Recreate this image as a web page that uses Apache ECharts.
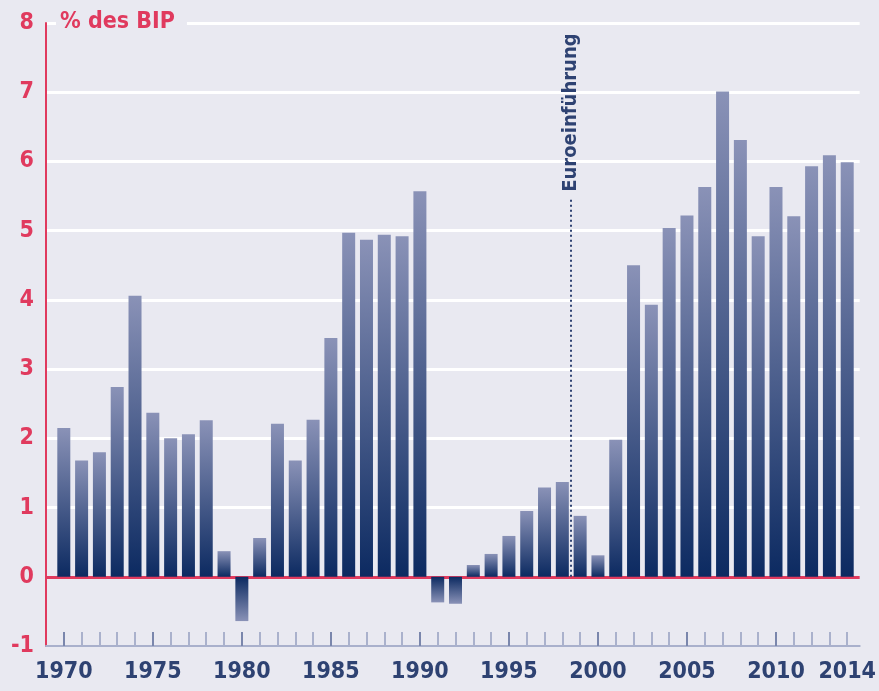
<!DOCTYPE html>
<html><head><meta charset="utf-8">
<script src="https://cdn.jsdelivr.net/npm/echarts@6/dist/echarts.min.js"></script>
<style>html,body{margin:0;padding:0;background:#e9e9f1;}#c{width:879px;height:691px;}</style>
</head><body><div id="c"></div>
<script>
const years = [1970,1971,1972,1973,1974,1975,1976,1977,1978,1979,1980,1981,1982,1983,1984,1985,1986,1987,1988,1989,1990,1991,1992,1993,1994,1995,1996,1997,1998,1999,2000,2001,2002,2003,2004,2005,2006,2007,2008,2009,2010,2011,2012,2013,2014];
const values = [2.15,1.68,1.80,2.74,4.06,2.37,2.00,2.06,2.26,0.37,-0.64,0.56,2.21,1.68,2.27,3.45,4.97,4.87,4.94,4.92,5.57,-0.37,-0.39,0.17,0.33,0.59,0.95,1.29,1.37,0.88,0.31,1.98,4.50,3.93,5.04,5.22,5.63,7.01,6.31,4.92,5.63,5.21,5.93,6.09,5.99];
const xLabels = [1970,1975,1980,1985,1990,1995,2000,2005,2010,2014];
const majorTicks = [1970,1975,1980,1985,1990,1995,2000,2005,2010];
const euroYear = 1998.5;
const euroLineTop = 5.45;
const euroLabel = 'Euroeinführung';
const unitLabel = '% des BIP';

const BG = '#e9e9f1', RED = '#e03a5e', BLUE = '#2e4272';
const light = '#8a92b7', dark = '#0c2a61';
function grad(neg){
  return new echarts.graphic.LinearGradient(0,0,0,1, neg
    ? [{offset:0,color:dark},{offset:1,color:light}]
    : [{offset:0,color:light},{offset:1,color:dark}]);
}
const barData = years.map((y,i)=>({value:[y, values[i]], itemStyle:{color:grad(values[i]<0)}}));

const chart = echarts.init(document.getElementById('c'));
const font = '"Liberation Sans Narrow","DejaVu Sans Condensed","Open Sans",sans-serif';
chart.setOption({
  backgroundColor: BG,
  animation: false,
  title: {
    text: unitLabel, left: 56, top: 9,
    backgroundColor: BG, padding: [2,12,2,4],
    textStyle: {color: RED, fontSize: 23, fontWeight: 'bold', fontFamily: font}
  },
  grid: {left: 46, right: 16, top: 23, bottom: 45},
  xAxis: [{
    type: 'value', min: 1969, max: 2014.7,
    axisLine: {show: true, onZero: false, lineStyle: {color: '#a9b0cc', width: 2}},
    axisTick: {show: true, inside: true, length: 14, customValues: years, lineStyle: {color: '#aab1cc', width: 2}},
    axisLabel: {customValues: xLabels, color: BLUE, fontSize: 23, fontWeight: 'bold', fontFamily: font, margin: 15, formatter: v => String(v)},
    splitLine: {show: false}
  },{
    type: 'value', min: 1969, max: 2014.7, position: 'bottom',
    axisLine: {show: false, onZero: false},
    axisTick: {show: true, inside: true, length: 14, customValues: majorTicks, lineStyle: {color: '#7a86ac', width: 2}},
    axisLabel: {show: false}, splitLine: {show: false}
  }],
  yAxis: {
    type: 'value', min: -1, max: 8, interval: 1,
    axisLine: {show: true, lineStyle: {color: RED, width: 2}},
    axisTick: {show: false},
    axisLabel: {color: RED, fontSize: 23, fontWeight: 'bold', fontFamily: font, margin: 12},
    splitLine: {show: true, lineStyle: {color: ['rgba(0,0,0,0)', RED, '#ffffff','#ffffff','#ffffff','#ffffff','#ffffff','#ffffff','#ffffff','#ffffff'], width: 3}}
  },
  series: [{
    type: 'bar', barWidth: 13, data: barData, z: 2,
    markLine: {
      silent: true, symbol: ['none','none'],
      lineStyle: {color: BLUE, type: [2,3], width: 2},
      label: {show: false},
      data: [[{coord: [euroYear, 0]}, {coord: [euroYear, euroLineTop]}]]
    },
    markPoint: {
      silent: true, symbol: 'circle', symbolSize: 0,
      data: [{coord: [euroYear, euroLineTop + 0.17], value: 0}],
      label: {show: true, formatter: euroLabel, position: 'inside', rotate: 90, align: 'left', verticalAlign: 'middle', offset: [-4, 0],
        color: BLUE, fontSize: 20, fontWeight: 'bold', fontFamily: font}
    }
  }]
});
</script></body></html>
